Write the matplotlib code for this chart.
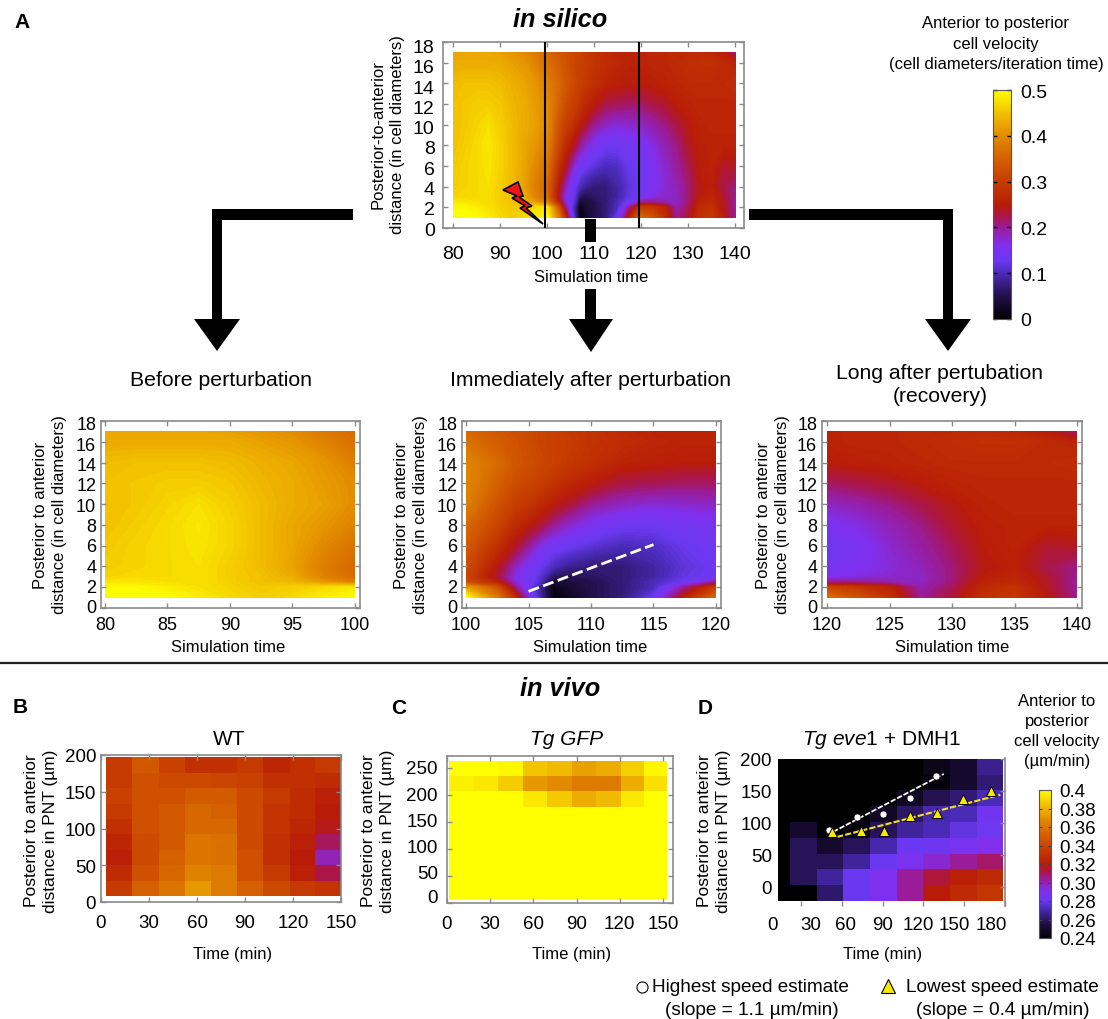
import matplotlib
matplotlib.use("Agg")
import matplotlib.pyplot as plt
from matplotlib.colors import LinearSegmentedColormap, Normalize
from matplotlib.cm import ScalarMappable
from matplotlib.patches import Polygon, Rectangle
import numpy as np

plt.rcParams['font.family'] = ['Liberation Sans', 'DejaVu Sans']
plt.rcParams['mathtext.fontset'] = 'custom'
plt.rcParams['mathtext.rm'] = 'Liberation Sans'
plt.rcParams['mathtext.it'] = 'Liberation Sans:italic'

W, H = 1108, 1020
GREY = '#8a8a8a'
CMAP = LinearSegmentedColormap.from_list('pm3d', [
    (0, '#000000'), (.1, '#22104a'), (.2, '#4a2bb8'), (.25, '#6a38f0'), (.32, '#7f30ef'),
    (.4, '#9a1c98'), (.45, '#ab1548'), (.5, '#b81c08'), (.6, '#c63c00'), (.7, '#d46000'),
    (.8, '#e28a00'), (.9, '#f2c000'), (1, '#ffff00')], N=512)

# in silico : distance rows shared by the three time windows
dist = [1, 2, 2.5, 3, 4, 6, 8, 10, 12, 14, 16, 17]

time_before = [80, 82.5, 85, 87.5, 90, 92.5, 95, 97.5, 100]
vel_before = [
    [.50, .50, .50, .485, .47, .46, .47, .485, .50],
    [.495, .495, .485, .475, .465, .455, .46, .47, .48],
    [.48, .48, .475, .475, .46, .45, .44, .41, .385],
    [.465, .47, .47, .475, .46, .45, .43, .39, .36],
    [.46, .465, .47, .475, .46, .445, .42, .385, .355],
    [.455, .465, .47, .478, .465, .445, .425, .395, .37],
    [.45, .46, .47, .48, .465, .445, .425, .41, .39],
    [.45, .455, .465, .475, .46, .445, .43, .42, .40],
    [.45, .455, .46, .46, .455, .44, .43, .415, .40],
    [.445, .45, .45, .45, .445, .435, .425, .41, .385],
    [.43, .43, .43, .43, .43, .42, .41, .39, .365],
    [.425, .425, .425, .425, .42, .41, .40, .38, .36],
]

time_after = [100, 102.5, 104, 105, 106, 107, 108, 110, 112.5, 115, 117.5, 120]
vel_after = [
    [.50, .38, .27, .17, .09, .01, .02, .05, .07, .13, .26, .36],
    [.42, .33, .20, .13, .08, .01, .03, .05, .07, .10, .20, .30],
    [.32, .26, .17, .14, .10, .03, .04, .05, .07, .10, .13, .20],
    [.31, .23, .16, .14, .11, .06, .05, .06, .07, .09, .12, .13],
    [.32, .245, .18, .145, .125, .10, .085, .07, .07, .09, .115, .13],
    [.34, .28, .235, .20, .16, .14, .13, .115, .10, .105, .125, .135],
    [.36, .31, .27, .25, .23, .20, .18, .15, .13, .13, .14, .145],
    [.385, .33, .30, .29, .27, .25, .235, .20, .18, .17, .175, .18],
    [.395, .35, .32, .31, .30, .285, .27, .25, .225, .22, .215, .215],
    [.395, .36, .335, .325, .315, .305, .295, .28, .26, .255, .25, .25],
    [.37, .345, .33, .32, .31, .305, .30, .285, .275, .265, .26, .26],
    [.36, .335, .325, .32, .31, .305, .295, .285, .27, .26, .26, .26],
]

time_long = [120, 122.5, 125, 127.5, 130, 132.5, 135, 137.5, 140]
vel_long = [
    [.37, .33, .28, .20, .23, .28, .29, .25, .20],
    [.31, .29, .26, .19, .22, .27, .285, .24, .20],
    [.20, .20, .19, .18, .21, .26, .27, .24, .195],
    [.16, .165, .175, .18, .21, .25, .265, .235, .20],
    [.145, .155, .17, .185, .21, .245, .255, .225, .205],
    [.13, .15, .175, .195, .22, .25, .26, .235, .24],
    [.15, .165, .185, .205, .235, .255, .26, .26, .26],
    [.18, .19, .205, .225, .245, .26, .265, .265, .265],
    [.215, .225, .235, .25, .26, .265, .265, .265, .265],
    [.25, .255, .26, .265, .27, .27, .27, .27, .275],
    [.26, .265, .265, .27, .275, .28, .28, .27, .26],
    [.26, .265, .265, .27, .27, .27, .265, .25, .21],
]

# in vivo : cell edges and cell values, bottom row first
wt_t = [3, 19.5, 36, 52.5, 69, 85, 101.5, 118, 134, 150]
wt_y = [8, 29, 50, 71, 92, 113, 134, 155, 176, 197]
wt_v = [
    [.335, .352, .36, .372, .362, .352, .342, .335, .332],
    [.328, .345, .355, .365, .362, .345, .335, .322, .312],
    [.322, .342, .352, .36, .358, .345, .33, .32, .30],
    [.325, .342, .348, .36, .358, .342, .33, .322, .31],
    [.33, .345, .348, .355, .355, .342, .332, .325, .318],
    [.335, .345, .348, .355, .352, .342, .332, .328, .32],
    [.338, .345, .345, .35, .35, .342, .335, .328, .322],
    [.335, .345, .342, .342, .34, .338, .33, .33, .328],
    [.335, .348, .338, .33, .33, .335, .325, .33, .335],
]

gfp_t = [1.7, 18.7, 35.7, 52.7, 69.7, 86.7, 103.7, 120.7, 137, 153]
gfp_y = [7, 35.5, 64, 92.5, 121, 149.5, 178, 207, 235, 263]
gfp_v = [
    [.40] * 9,
    [.40] * 9,
    [.40] * 9,
    [.40] * 9,
    [.40] * 9,
    [.40] * 9,
    [.40, .40, .40, .394, .386, .378, .382, .394, .40],
    [.396, .394, .387, .372, .368, .362, .362, .378, .392],
    [.40, .40, .398, .385, .382, .375, .378, .388, .398],
]

dmh_t = [13, 22, 41.6, 61.2, 80.8, 100.4, 120, 139.6, 159.2, 178.8]
dmh_y = [-22, 2.7, 27.4, 52.1, 76.8, 101.5, 126.2, 150.9, 175.6, 200.3]
dmh_v = [
    [.24, .24, .261, .28, .291, .304, .32, .327, .333],
    [.24, .258, .268, .28, .291, .304, .314, .322, .326],
    [.24, .258, .258, .268, .281, .29, .296, .304, .309],
    [.24, .258, .25, .258, .27, .28, .283, .287, .292],
    [.24, .25, .24, .243, .258, .268, .272, .278, .282],
    [.24, .24, .24, .24, .248, .26, .27, .272, .284],
    [.24, .24, .24, .24, .24, .248, .257, .262, .272],
    [.24, .24, .24, .24, .24, .24, .243, .25, .262],
    [.24, .24, .24, .24, .24, .24, .245, .25, .266],
]

high_t = [50.7, 71, 90, 110, 129.4]
high_y = [89, 109, 114, 139, 173]
low_t = [53, 74, 91, 110, 130, 149, 170]
low_y = [86, 87.5, 87.5, 111, 116, 137.5, 150]
high_fit_t = [53.7, 135]
high_fit_y = [86, 176.6]
low_fit_t = [56.6, 176.5]
low_fit_y = [78, 144]
front_t = [105, 115]
front_y = [1.6, 6.1]

sim_levels = np.linspace(0, 0.5, 121)


#Crea unos ejes a partir de su caja en pixeles de la figura
def ejes(izq, der, arr, aba, xlim, ylim):
    ax = fig.add_axes([izq/W, 1-aba/H, (der-izq)/W, (aba-arr)/H])
    ax.set_xlim(xlim)
    ax.set_ylim(ylim)
    for s in ax.spines.values():
        s.set_color(GREY)
        s.set_linewidth(1.2)
    ax.tick_params(direction='in', length=3.5, width=1, color=GREY, top=True, right=True)
    return ax


fig = plt.figure(figsize=(W/100, H/100), dpi=100)

# panel superior, las tres ventanas seguidas
t_all = time_before + time_after[1:] + time_long[1:]
v_all = np.hstack([np.array(vel_before), np.array(vel_after)[:, 1:], np.array(vel_long)[:, 1:]])
ax0 = ejes(443, 744, 43, 229, (77.87, 141.9), (0, 18))
ax0.contourf(t_all, dist, v_all, levels=sim_levels, cmap=CMAP, extend='both')
ax0.axvline(99.6, color='k', lw=1.5, zorder=5)
ax0.axvline(119.5, color='k', lw=1.5, zorder=5)
ax0.set_xticks(range(80, 141, 10))
ax0.set_yticks(range(0, 19, 2))
ax0.set_yticklabels([])
ax0.yaxis.remove_overlapping_locs = False
# las etiquetas estan algo mas juntas que las marcas
ax0.set_yticks([v*.98 for v in range(0, 19, 2)], [str(v) for v in range(0, 19, 2)], minor=True)
ax0.tick_params(axis='x', labelsize=14, pad=12)
ax0.tick_params(axis='y', which='minor', length=0, labelsize=14, pad=6)

cases = [(101, 360, (79.68, 100.4), time_before, vel_before, range(80, 101, 5)),
         (462, 721, (99.68, 120.4), time_after, vel_after, range(100, 121, 5)),
         (822, 1082, (119.6, 140.4), time_long, vel_long, range(120, 141, 5))]
for izq, der, xl, tt, vv, xt in cases:
    ax = ejes(izq, der, 422, 609, xl, (0, 18))
    ax.contourf(tt, dist, vv, levels=sim_levels, cmap=CMAP, extend='both')
    ax.set_xticks(xt)
    ax.set_yticks(range(0, 19, 2))
    ax.set_yticklabels([])
    ax.yaxis.remove_overlapping_locs = False
    ax.set_yticks([.2 + v*.98 for v in range(0, 19, 2)], [str(v) for v in range(0, 19, 2)], minor=True)
    ax.tick_params(axis='x', labelsize=13, pad=6)
    ax.tick_params(axis='y', which='minor', length=0, labelsize=13, pad=3.5)
    if izq == 462:
        ax.plot(front_t, front_y, color='w', lw=2, dashes=(4, 1.6))

# barra de color de in silico
cax = fig.add_axes([993/W, 1-320/H, 18/W, 229/H])
cb = fig.colorbar(ScalarMappable(Normalize(0, .5), CMAP), cax=cax)
cb.set_ticks([0, .1, .2, .3, .4, .5], labels=['0', '0.1', '0.2', '0.3', '0.4', '0.5'])
cb.ax.tick_params(labelsize=14, length=3, width=1, direction='in', pad=7, left=True, color='k')
cb.outline.set_edgecolor('#555555')

# paneles in vivo
axb = ejes(101, 341, 756, 903, (0, 150), (0, 200))
axb.pcolormesh(wt_t, wt_y, wt_v, cmap=CMAP, vmin=.24, vmax=.4)
axb.set_xticks(range(0, 151, 30))
axb.set_yticks(range(0, 201, 50))
axb.tick_params(axis='x', labelsize=13.5, pad=9)
axb.tick_params(axis='y', labelsize=13.5, pad=3.5)

axc = ejes(447, 673, 757, 904, (0, 157), (0, 272))
axc.pcolormesh(gfp_t, gfp_y, gfp_v, cmap=CMAP, vmin=.24, vmax=.4)
axc.set_xticks(range(0, 151, 30))
# las etiquetas del eje y no coinciden con las marcas, se ponen aparte
axc.set_yticks(range(0, 251, 50))
axc.set_yticklabels([])
axc.yaxis.remove_overlapping_locs = False
axc.set_yticks([13, 59, 107, 154, 202, 252], ['0', '50', '100', '150', '200', '250'], minor=True)
axc.tick_params(axis='x', labelsize=13.5, pad=9)
axc.tick_params(axis='y', which='minor', length=0, labelsize=13.5, pad=6.5)

axd = ejes(760, 1005, 759, 907, (0, 180), (-30, 201.5))
qm = axd.pcolormesh(dmh_t, dmh_y, dmh_v, cmap=CMAP, vmin=.24, vmax=.4)
for s in ['left', 'top', 'bottom']:
    axd.spines[s].set_visible(False)
axd.set_xticks(range(30, 181, 30))
axd.set_xticklabels([])
axd.xaxis.remove_overlapping_locs = False
axd.set_xticks([9, 37, 63, 90, 116, 143, 170], ['0', '30', '60', '90', '120', '150', '180'], minor=True)
axd.tick_params(axis='x', which='minor', length=0, labelsize=13.5, pad=7)
axd.tick_params(axis='x', which='major', top=False)
axd.set_yticks(range(0, 201, 50))
axd.tick_params(axis='y', labelsize=13.5, pad=-8.6, left=False)
axd.plot(high_fit_t, high_fit_y, color='w', lw=1.3, dashes=(3, 1), zorder=3)
axd.plot(low_fit_t, low_fit_y, color='#f4e020', lw=1.5, dashes=(3, 1), zorder=3)
axd.plot(high_t, high_y, 'o', color='w', mec='k', mew=0.4, ms=5, zorder=4)
axd.plot(low_t, low_y, '^', color='#f7ea00', mec='k', mew=0.7, ms=6.5, zorder=4)

# barra de color de in vivo
cax2 = fig.add_axes([1039/W, 1-939/H, 12/W, 148/H])
cb2 = fig.colorbar(qm, cax=cax2)
cb2.set_ticks([.24, .26, .28, .30, .32, .34, .36, .38, .40],
              labels=['0.24', '0.26', '0.28', '0.30', '0.32', '0.34', '0.36', '0.38', '0.4'])
cb2.ax.tick_params(labelsize=13.5, length=2, direction='in', left=True, color='#444444', pad=6)
cb2.outline.set_edgecolor('#555555')

# capa en pixeles para flechas, rayo y textos
top = fig.add_axes([0, 0, 1, 1], zorder=20)
top.set_xlim(0, W)
top.set_ylim(H, 0)
top.axis('off')

for caja in [(212, 210, 141, 11), (212, 210, 10, 110), (749, 210, 204, 11), (943, 210, 10, 110),
             (585, 220, 11, 23), (585, 290, 11, 30)]:
    top.add_patch(Rectangle(caja[:2], caja[2], caja[3], fc='k', ec='none'))
for cabeza in [[(194, 320), (240, 320), (217, 352)],
               [(569, 320), (613, 320), (591, 353)],
               [(925, 320), (971, 320), (948, 352)]]:
    top.add_patch(Polygon(cabeza, fc='k', ec='none'))
rayo = [(503, 191), (518, 183), (523, 197), (519, 198), (532, 207), (526, 209),
        (543, 225), (520, 209), (525, 207), (512, 199), (517, 197)]
top.add_patch(Polygon(rayo, fc='#f01414', ec='k', lw=1.2))
top.plot([0, W], [664, 664], color='#222222', lw=1.6)


def txt(x, y, s, size=11, **kw):
    kw.setdefault('ha', 'center')
    kw.setdefault('linespacing', 1.35)
    top.text(x, y, s, fontsize=size, va='center', **kw)


txt(560, 20, 'in silico', 18.3, fontweight='bold', fontstyle='italic')
txt(560, 689, 'in vivo', 18.3, fontweight='bold', fontstyle='italic')
for x, y, s in [(22, 23, 'A'), (20, 708, 'B'), (399, 709, 'C'), (705, 709, 'D')]:
    txt(x, y, s, 15, fontweight='bold')

txt(221, 381, 'Before perturbation', 15.3)
txt(590, 381, 'Immediately after perturbation', 15.2)
txt(940, 385, 'Long after pertubation\n(recovery)', 15.2, linespacing=1.3)
txt(229, 740, 'WT', 15)
txt(566, 740, 'Tg GFP', 15, fontstyle='italic')
txt(882, 740, r'$\mathit{Tg\ eve1}$ + DMH1', 15)

txt(388, 135, 'Posterior-to-anterior\ndistance (in cell diameters)', 12, rotation=90)
for x in [50, 411, 773]:
    txt(x, 515, 'Posterior to anterior\ndistance (in cell diameters)', 12, rotation=90)
for x in [41, 378, 714]:
    txt(x, 831, 'Posterior to anterior\ndistance in PNT (\u00b5m)', 12.5, rotation=90)

txt(591, 278, 'Simulation time', 12)
for x in [228, 590, 952]:
    txt(x, 648, 'Simulation time', 12)
for x in [233, 572, 883]:
    txt(x, 955, 'Time (min)', 12)

txt(996, 44, 'Anterior to posterior\ncell velocity\n(cell diameters/iteration time)', 12, linespacing=1.45)
txt(1057, 731.5, 'Anterior to\nposterior\ncell velocity\n(\u00b5m/min)', 12, linespacing=1.42)

top.plot([642], [988], 'o', color='w', mec='k', mew=0.8, ms=8)
top.plot([888], [987], '^', color='#f7ea00', mec='k', mew=0.8, ms=10)
txt(652, 988, 'Highest speed estimate', 13.7, ha='left')
txt(752, 1011, '(slope = 1.1 \u00b5m/min)', 13.7)
txt(906, 988, 'Lowest speed estimate', 13.7, ha='left')
txt(1003, 1011, '(slope = 0.4 \u00b5m/min)', 13.7)

plt.savefig("out.png", dpi=100)
plt.close()
